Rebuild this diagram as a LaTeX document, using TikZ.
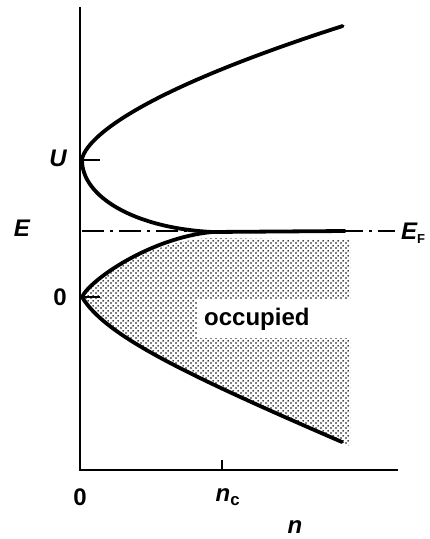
\documentclass[tikz,border=0pt]{standalone}
\usepackage{fontspec}
\setmainfont{Liberation Sans}
\usetikzlibrary{patterns.meta}
\tikzdeclarepattern{
  name=halftone,
  type=uncolored,
  bounding box={(0pt,0pt) and (5pt,5pt)},
  tile size={(5pt,5pt)},
  code={
    \pgfpathcircle{\pgfpoint{1.25pt}{1.25pt}}{1.05pt}
    \pgfpathcircle{\pgfpoint{3.75pt}{3.75pt}}{1.05pt}
    \pgfusepath{fill}
  }
}
\tikzset{
  curve/.style={line width=3.8pt, line cap=round, line join=round},
  axis/.style={line width=2.8pt},
  ticku/.style={line width=2.8pt},
  fermi/.style={line width=2.6pt, dash pattern=on 22pt off 6pt on 3pt off 6pt},
  lbl/.style={font=\fontsize{24}{28}\selectfont\bfseries\itshape, inner sep=0pt},
  lblup/.style={font=\fontsize{24}{28}\selectfont\bfseries, inner sep=0pt},
  shade/.style={pattern={halftone}, pattern color=black}
}
\begin{document}
\begin{tikzpicture}[x=1pt,y=-1pt]
\useasboundingbox (0,0) rectangle (430,539);
% key points
\coordinate (top) at (80,7);
\coordinate (orig) at (80,470);
\coordinate (xend) at (398,470);
\coordinate (vU) at (82,160);
\coordinate (v0) at (82,297);
\coordinate (touch) at (212,232);
\coordinate (flatend) at (345,231);
\coordinate (lowend) at (342,442);
\coordinate (fl) at (82,231);
\coordinate (fr) at (395,231);
% shaded occupied region
\fill[shade] (v0) .. controls (90,280) and (150,240) .. (212,238)
  -- (350,240) -- (350,446) -- (lowend)
  .. controls (180,372) and (105,335) .. (v0) -- cycle;
% label box
\node[lblup, fill=white, anchor=west,
      minimum height=38pt, text width=140pt, inner xsep=7pt] (occ) at (197,319) {occupied};
% Fermi level
\draw[fermi] (fl) -- (fr);
% axes
\draw[axis] (top) -- (orig) -- (xend);
% upper band
\draw[curve] (vU) -- plot[domain=0.5:134, samples=80] ({82+0.103*\x^1.6},{160-\x});
\draw[curve] (vU) .. controls (82,197) and (135,228) .. (touch) -- (flatend);
% lower band
\draw[curve] (v0) .. controls (90,280) and (150,238) .. (touch);
\draw[curve] (v0) .. controls (105,335) and (180,372) .. (lowend);
% ticks
\draw[ticku] (vU) -- (100,160);
\draw[ticku] (v0) -- (100,297);
\draw[line width=1.6pt] (222,460) -- (222,469);
% labels
\node[lbl] (lU) at (58,158) {U};
\node[lbl] (lE) at (22,228) {E};
\node[lblup] (l0) at (60,297) {0};
\node[lbl, anchor=west] (lEF) at (401,233) {E\textsubscript{\upshape\fontsize{13}{13}\selectfont F}};
\node[lblup] (lx0) at (80,497) {0};
\node[lbl] (lnc) at (228,497) {n\textsubscript{\upshape c}};
\node[lbl] (ln) at (295,527) {n};
\end{tikzpicture}
\end{document}
